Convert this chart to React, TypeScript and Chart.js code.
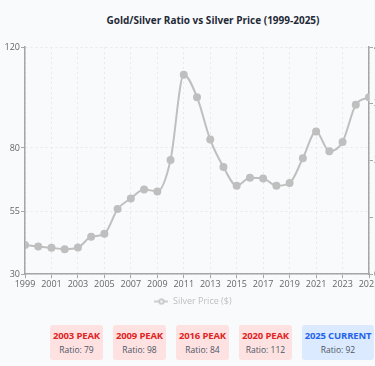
import React, { useEffect, useRef } from "react";
import { Chart, registerables } from "chart.js";
Chart.register(...registerables);

const years = [1999, 2000, 2001, 2002, 2003, 2004, 2005, 2006, 2007, 2008, 2009, 2010, 2011, 2012, 2013, 2014, 2015, 2016, 2017, 2018, 2019, 2020, 2021, 2022, 2023, 2024, 2025];
const silverPrice = [5.12, 4.87, 4.64, 4.41, 4.69, 6.58, 7.11, 11.47, 13.34, 14.93, 14.58, 20.12, 35.12, 31.16, 23.7, 18.88, 15.58, 16.99, 16.87, 15.58, 16.06, 20.4, 25.11, 21.63, 23.29, 29.82, 31.16];
const ratioTicks = [30, 55, 80, 120];
const priceTicks = [0, 10, 20, 30, 40];
const peakLabels = ["2003 PEAK", "2009 PEAK", "2016 PEAK", "2020 PEAK", "2025 CURRENT"];
const peakRatios = [79, 98, 84, 112, 92];
const peakKinds = ["peak", "peak", "peak", "peak", "current"];

const LINE = "#bfbfbf";
const AXIS = "#a6a6a6";
const GRID = "#e9e9e9";
const TICKTXT = "#666666";
const BG = "#f9fafb";
const FONT = "'Open Sans', 'Noto Sans', sans-serif";

export default function App() {
  const ref = useRef<HTMLCanvasElement | null>(null);

  useEffect(() => {
    document.body.style.margin = "0";
    document.body.style.background = BG;
    const icon = document.createElement("canvas");
    icon.width = 14;
    icon.height = 8;
    const c = icon.getContext("2d")!;
    c.strokeStyle = LINE;
    c.lineWidth = 1.5;
    c.beginPath();
    c.moveTo(0, 4);
    c.lineTo(14, 4);
    c.stroke();
    c.beginPath();
    c.arc(7, 4, 2.3, 0, Math.PI * 2);
    c.fillStyle = BG;
    c.fill();
    c.stroke();

    const chart = new Chart(ref.current!, {
      type: "line",
      data: {
        datasets: [
          {
            label: "Silver Price ($)",
            data: years.map((y, i) => ({ x: y, y: silverPrice[i] })),
            yAxisID: "y1",
            borderColor: LINE,
            backgroundColor: LINE,
            pointBackgroundColor: LINE,
            pointBorderColor: LINE,
            pointRadius: 3,
            borderWidth: 2,
            cubicInterpolationMode: "monotone",
          },
        ],
      },
      options: {
        animation: false,
        responsive: false,
        maintainAspectRatio: false,
        layout: { padding: { top: 15, bottom: 0, left: 0, right: 0 } },
        plugins: {
          tooltip: { enabled: false },
          title: { display: false },
          legend: {
            position: "bottom",
            labels: {
              usePointStyle: true,
              pointStyleWidth: 14,
              padding: 6,
              font: { family: FONT, size: 9 },
              color: LINE,
              generateLabels: () => [
                {
                  text: "Silver Price ($)",
                  pointStyle: icon as any,
                  fontColor: LINE,
                  fillStyle: "transparent",
                  strokeStyle: "transparent",
                  lineWidth: 0,
                  hidden: false,
                  datasetIndex: 0,
                } as any,
              ],
            },
          },
        },
        scales: {
          x: {
            type: "linear",
            min: 1999,
            max: 2025,
            ticks: {
              stepSize: 2,
              autoSkip: false,
              maxRotation: 0,
              padding: 1,
              color: TICKTXT,
              font: { family: FONT, size: 9 },
              callback: (v: any) => String(v),
            },
            grid: { color: GRID, tickColor: AXIS, tickLength: 4, lineWidth: 1 },
            border: { color: AXIS, width: 1.5, dash: [2, 3] },
          },
          y: {
            position: "left",
            min: 30,
            max: 120,
            afterBuildTicks: (s: any) => {
              s.ticks = ratioTicks.map((v) => ({ value: v }));
            },
            afterFit: (s: any) => {
              s.width = 25;
            },
            ticks: {
              padding: 1,
              color: TICKTXT,
              font: { family: FONT, size: 9 },
            },
            grid: { color: GRID, tickColor: AXIS, tickLength: 4, lineWidth: 1 },
            border: { color: AXIS, width: 1.5, dash: [2, 3] },
          },
          y1: {
            position: "right",
            min: 0,
            max: 40,
            afterBuildTicks: (s: any) => {
              s.ticks = priceTicks.map((v) => ({ value: v }));
            },
            afterFit: (s: any) => {
              s.width = 17;
            },
            ticks: {
              padding: 1,
              color: TICKTXT,
              font: { family: FONT, size: 9 },
            },
            grid: { drawOnChartArea: false, tickColor: AXIS, tickLength: 4 },
            border: { color: AXIS, width: 1.5 },
          },
        },
      },
    });
    return () => chart.destroy();
  }, []);

  return (
    <div style={{ position: "fixed", left: 0, top: 0, width: 375, height: 366, overflow: "hidden", background: BG, fontFamily: FONT }}>
      <div
        style={{
          position: "absolute",
          left: 0,
          top: 12,
          width: 426,
          textAlign: "center",
          fontWeight: 700,
          fontSize: 10,
          lineHeight: "16px",
          color: "#1f2937",
        }}
      >
        Gold/Silver Ratio vs Silver Price (1999-2025)
      </div>
      <div style={{ position: "absolute", left: 0, top: 32, width: 386, height: 284 }}>
        <canvas ref={ref} width={386} height={284} style={{ width: 386, height: 284 }} />
      </div>
      <div style={{ position: "absolute", left: 50, top: 325, display: "flex", gap: 10 }}>
        {peakLabels.map((lab, i) => {
          const cur = peakKinds[i] === "current";
          return (
            <div
              key={lab}
              style={{
                width: cur ? 72 : 53,
                height: 35,
                boxSizing: "border-box",
                borderRadius: 3,
                background: cur ? "#dbeafe" : "#fee2e2",
                textAlign: "center",
                paddingTop: 4,
              }}
            >
              <div style={{ fontWeight: 700, fontSize: 9.5, lineHeight: "14px", color: cur ? "#2563eb" : "#e02424", whiteSpace: "nowrap", letterSpacing: -0.15 }}>{lab}</div>
              <div style={{ fontSize: 8.5, lineHeight: "13px", color: "#4b5563", whiteSpace: "nowrap" }}>Ratio: {peakRatios[i]}</div>
            </div>
          );
        })}
      </div>
    </div>
  );
}
